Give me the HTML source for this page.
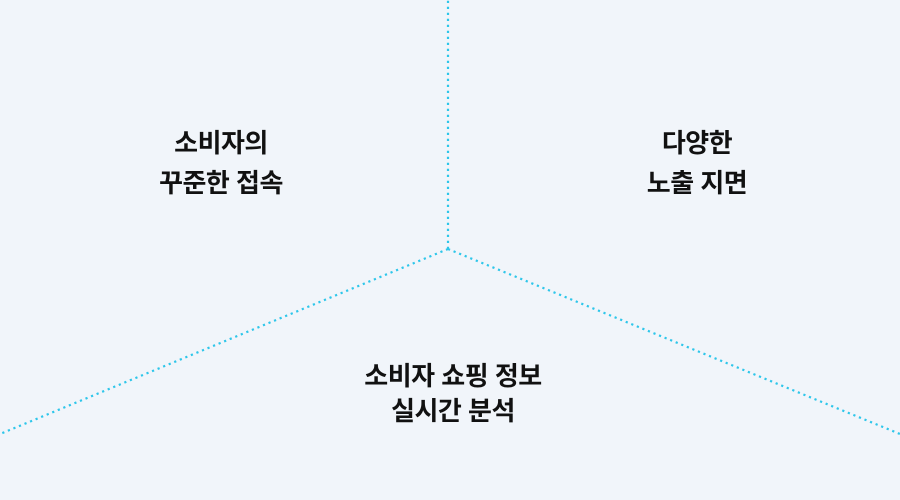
<!DOCTYPE html>
<html><head><meta charset="utf-8"><style>
body{margin:0;width:900px;height:500px;background:#f1f5fa;overflow:hidden;position:relative;font-family:"Liberation Sans","Noto Sans CJK KR",sans-serif;}
.t{position:absolute;font-size:26px;font-weight:bold;color:#111;text-align:center;width:300px;line-height:26px;letter-spacing:-0.5px;}
</style></head><body>
<svg width="900" height="500" style="position:absolute;left:0;top:0">
<g stroke="#2ec6ea" stroke-width="2.2" stroke-dasharray="2.2 3.8" fill="none">
<line x1="448" y1="249" x2="448" y2="0"/>
<line x1="448" y1="249" x2="0" y2="434"/>
<line x1="448" y1="249" x2="900" y2="434"/>
</g></svg>
<div class="t" style="left:71px;top:130px">소비자의</div>
<div class="t" style="left:71px;top:170px">꾸준한 접속</div>
<div class="t" style="left:547px;top:130px">다양한</div>
<div class="t" style="left:547px;top:170px">노출 지면</div>
<div class="t" style="left:303px;top:363px">소비자 쇼핑 정보</div>
<div class="t" style="left:303px;top:398px">실시간 분석</div>
</body></html>
